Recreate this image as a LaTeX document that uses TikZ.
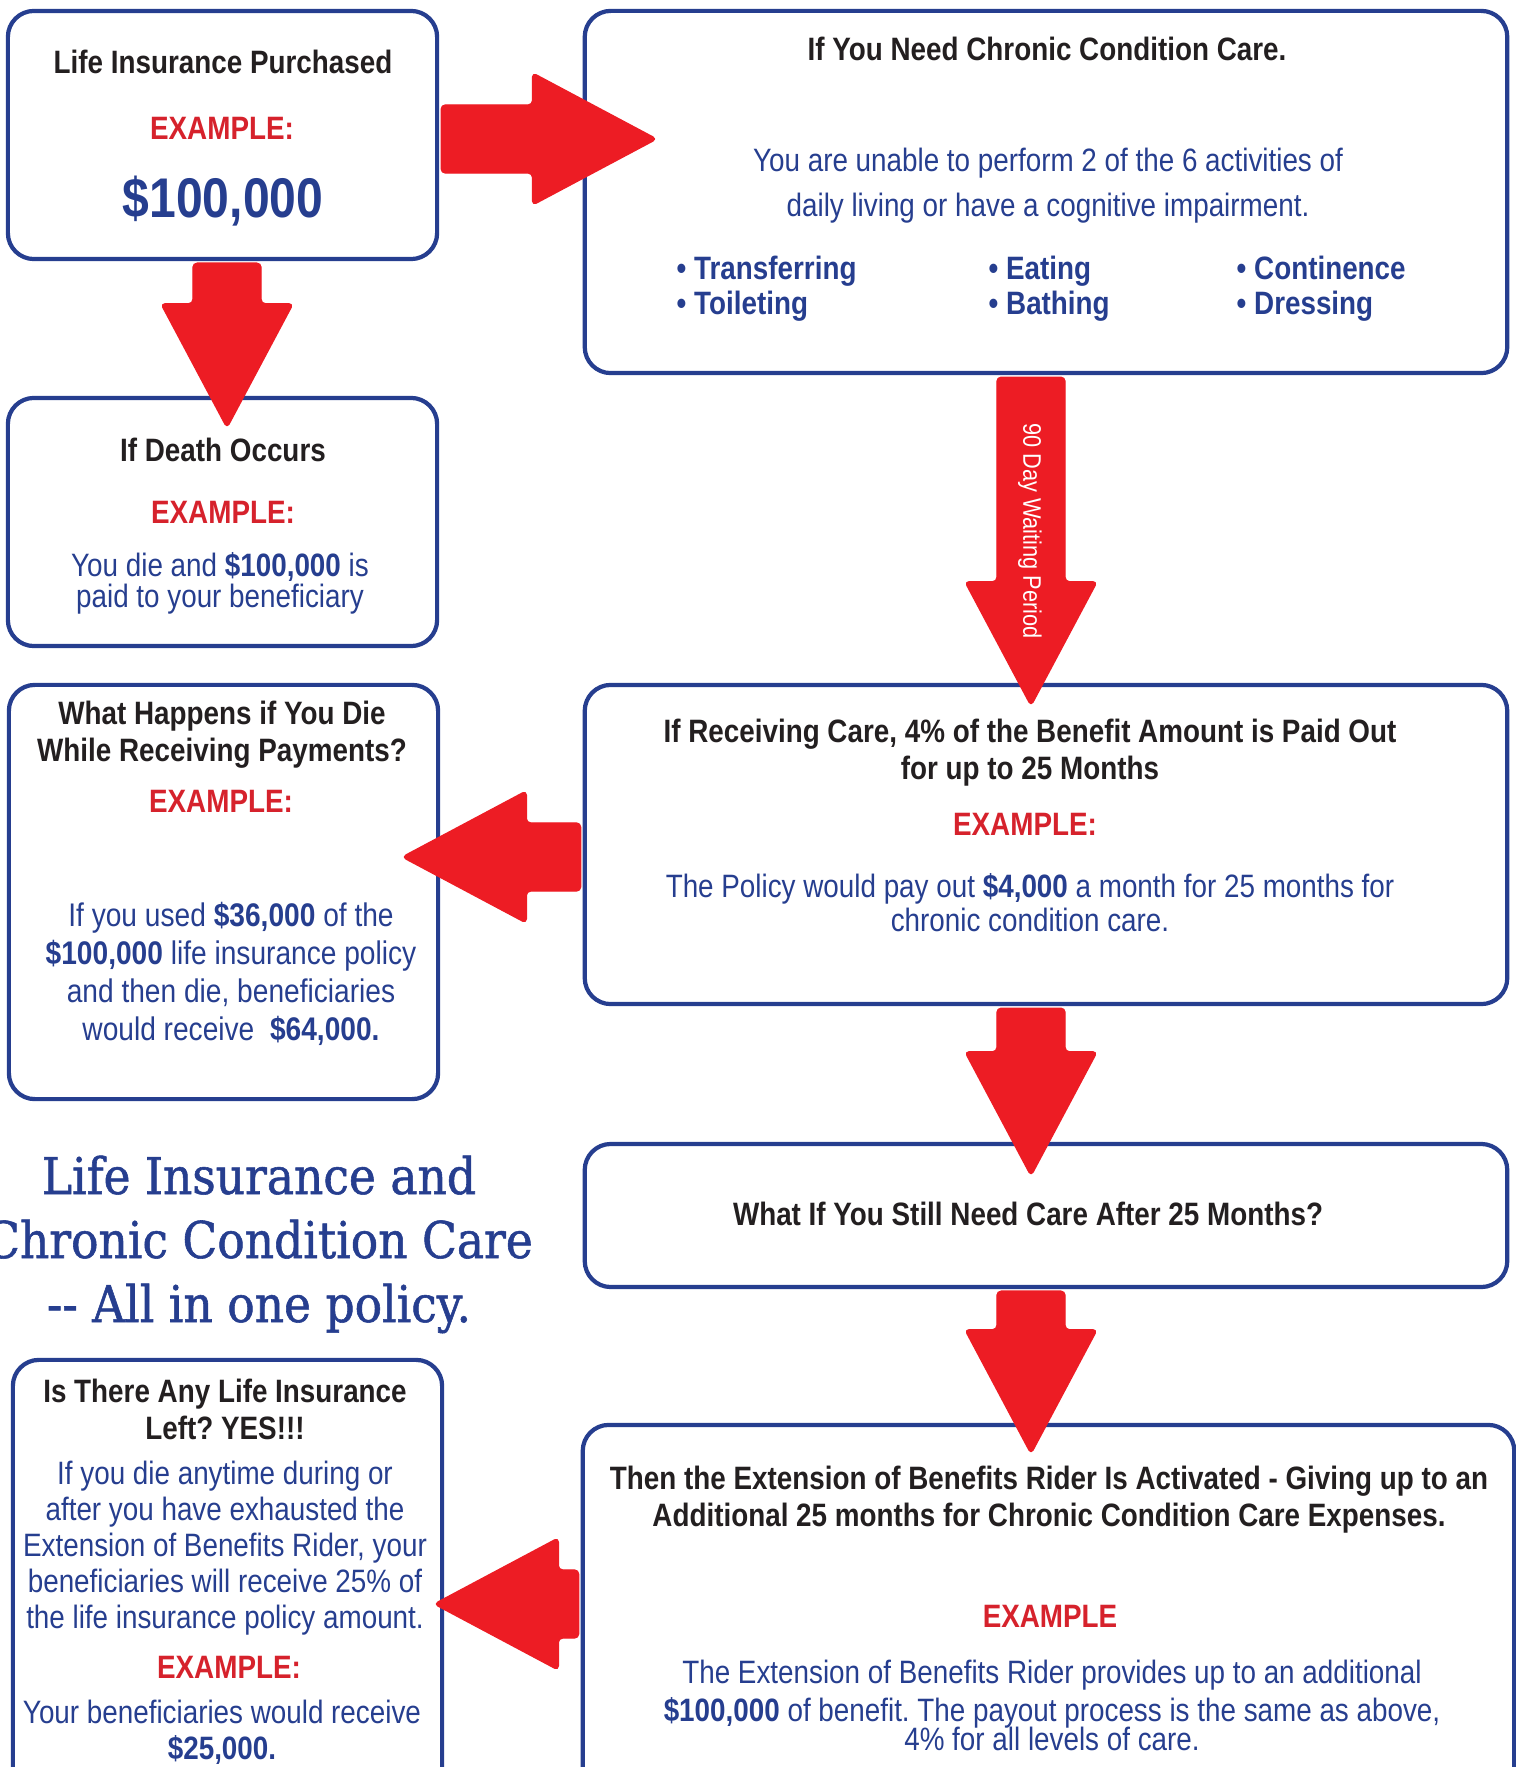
\documentclass[tikz,border=0pt]{standalone}
\usepackage{fontspec}
\setmainfont{Liberation Sans}[FakeStretch=0.86]
\newfontfamily\slabfont{DejaVu Serif}[FakeStretch=0.9, FakeBold=1.1]
\frenchspacing
\usepackage{tikz}
\usetikzlibrary{calc}
\definecolor{Policy_Blue}{HTML}{263E8F}
\definecolor{Arrow_Red}{HTML}{ED1C24}
\definecolor{Example_Red}{HTML}{D6222C}
\definecolor{Head_Black}{HTML}{231F20}

% fat block arrow from a start coordinate to its tip
\newcommand{\fatarrow}[2]{%
  \coordinate (fa-base) at ($(#2)!1.24cm!(#1)$);
  \fill[bigarrow] ($(#1)!0.34cm!90:(#2)$) -- ($(fa-base)!0.34cm!90:(#2)$)
    -- ($(fa-base)!0.66cm!90:(#2)$) -- (#2) -- ($(fa-base)!0.66cm!-90:(#2)$)
    -- ($(fa-base)!0.34cm!-90:(#2)$) -- ($(#1)!0.34cm!-90:(#2)$) -- cycle;
}

\begin{document}
\begin{tikzpicture}[x=0.01cm, y=-0.01cm,
    infobox/.style={draw=Policy_Blue, line width=1.2pt, rounded corners=7.4pt, inner sep=0pt},
    bigarrow/.style={fill=Arrow_Red, draw=Arrow_Red, line width=0.4pt, line join=round, rounded corners=1.2pt},
    boxtitle/.style={font=\fontsize{9.2}{10.4}\selectfont\bfseries, text=Head_Black, align=center, anchor=base, inner sep=0pt},
    exlabel/.style={font=\fontsize{9.2}{10.4}\selectfont\bfseries, text=Example_Red, anchor=base, inner sep=0pt},
    bodytext/.style={font=\fontsize{9.2}{10.4}\selectfont, text=Policy_Blue, align=center, anchor=base, inner sep=0pt},
    bulletitem/.style={font=\fontsize{9.2}{10}\selectfont\bfseries, text=Policy_Blue, align=left, anchor=base west, inner sep=0pt},
    slogan/.style={font=\fontsize{14.4}{18.2}\selectfont\slabfont, text=Policy_Blue, align=center, anchor=base, inner sep=0pt}]
    \useasboundingbox (0,0) rectangle (1516,1767);
    \clip (0,0) rectangle (1516,1767);

    % Boxes
    \node[infobox, minimum width=4.29cm, minimum height=2.48cm] (boxA) at (222.5,135) {};
    \node[infobox, minimum width=9.22cm, minimum height=3.62cm] (boxC) at (1046,192) {};
    \node[infobox, minimum width=4.29cm, minimum height=2.48cm] (boxB) at (222.5,522) {};
    \node[infobox, minimum width=4.29cm, minimum height=4.14cm] (boxE) at (223.5,892) {};
    \node[infobox, minimum width=9.22cm, minimum height=3.19cm] (boxD) at (1046,844.5) {};
    \node[infobox, minimum width=9.22cm, minimum height=1.43cm] (boxF) at (1046,1215.5) {};
    \node[infobox, minimum width=9.31cm, minimum height=3.75cm] (boxG) at (1048.5,1612.5) {};
    \node[infobox, minimum width=4.29cm, minimum height=4.40cm] (boxH) at (227.5,1580) {};

    % Arrow lanes
    \coordinate (laneA) at (227,0);
    \coordinate (laneR) at (1031,0);
    \coordinate (rowAC) at (0,139);
    \coordinate (rowDE) at (0,857);
    \coordinate (rowGH) at (0,1604);

    % Purchased -> chronic care
    \coordinate (srcAC) at ($(boxA.east |- rowAC)+(2,0)$);
    \coordinate (tipAC) at ($(boxC.west |- rowAC)+(74,0)$);
    \fatarrow{srcAC}{tipAC}

    % Purchased -> death
    \coordinate (srcAB) at ($(laneA |- boxA.south)+(0,2)$);
    \coordinate (tipAB) at ($(laneA |- boxB.north)+(0,32)$);
    \fatarrow{srcAB}{tipAB}

    % Chronic care -> receiving care (waiting period)
    \coordinate (srcCD) at ($(laneR |- boxC.south)+(0,2)$);
    \coordinate (tipCD) at ($(laneR |- boxD.north)+(0,23)$);
    \fatarrow{srcCD}{tipCD}

    % Receiving care -> die while receiving
    \coordinate (srcDE) at ($(boxD.west |- rowDE)+(-2,0)$);
    \coordinate (tipDE) at ($(boxE.east |- rowDE)+(-38,0)$);
    \fatarrow{srcDE}{tipDE}

    % Receiving care -> after 25 months
    \coordinate (srcDF) at ($(laneR |- boxD.south)+(0,2)$);
    \coordinate (tipDF) at ($(laneR |- boxF.north)+(0,34)$);
    \fatarrow{srcDF}{tipDF}

    % After 25 months -> rider
    \coordinate (srcFG) at ($(laneR |- boxF.south)+(0,2)$);
    \coordinate (tipFG) at ($(laneR |- boxG.north)+(0,31)$);
    \fatarrow{srcFG}{tipFG}

    % Rider -> life insurance left
    \coordinate (srcGH) at ($(boxG.west |- rowGH)+(-2,0)$);
    \coordinate (tipGH) at ($(boxH.east |- rowGH)+(-10,0)$);
    \fatarrow{srcGH}{tipGH}

    % Waiting period label
    \node[rotate=-90, font=\fontsize{7.2}{8}\selectfont, text=white, inner sep=0pt] (waitlbl) at (1030,531) {90 Day Waiting Period};

    % Life insurance purchased
    \node[boxtitle] (ttlA) at (223,74) {Life Insurance Purchased};
    \node[exlabel] (exA) at (222,140) {EXAMPLE:};
    \node[bodytext, font=\fontsize{15.9}{18}\selectfont\bfseries] (amtA) at (223,218) {\$100,000};

    % Chronic condition care (multi-line texts sit on their last baseline)
    \node[boxtitle] (ttlC) at (1047,61) {If You Need Chronic Condition Care.};
    \node[bodytext, font=\fontsize{9.2}{12.8}\selectfont] (txtC) at (1048,217) {You are unable to perform 2 of the 6 activities of\\daily living or have a cognitive impairment.};
    \node[bulletitem] (adl1) at (676,315) {•\ Transferring\\•\ Toileting};
    \node[bulletitem] (adl2) at (988,315) {•\ Eating\\•\ Bathing};
    \node[bulletitem] (adl3) at (1236,315) {•\ Continence\\•\ Dressing};

    % Death
    \node[boxtitle] (ttlB) at (223,462) {If Death Occurs};
    \node[exlabel] (exB) at (223,523) {EXAMPLE:};
    \node[bodytext, font=\fontsize{9.2}{8.6}\selectfont] (txtB) at (220,607) {You die and {\bfseries\$100,000} is\\paid to your beneficiary};

    % Die while receiving payments
    \node[boxtitle] (ttlE) at (222,761) {What Happens if You Die\\While Receiving Payments?};
    \node[exlabel] (exE) at (221,812) {EXAMPLE:};
    \node[bodytext, font=\fontsize{9.3}{10.8}\selectfont] (txtE) at (231,1040) {If you used {\bfseries\$36,000} of the\\{\bfseries\$100,000} life insurance policy\\and then die, beneficiaries\\would receive\ \ {\bfseries\$64,000.}};

    % Receiving care
    \node[boxtitle] (ttlD) at (1030,779) {If Receiving Care, 4\% of the Benefit Amount is Paid Out\\for up to 25 Months};
    \node[exlabel] (exD) at (1025,835) {EXAMPLE:};
    \node[bodytext, font=\fontsize{9.2}{9.4}\selectfont] (txtD) at (1030,931) {The Policy would pay out {\bfseries\$4,000} a month for 25 months for\\chronic condition care.};

    % Still need care
    \node[boxtitle] (ttlF) at (1028,1225) {What If You Still Need Care After 25 Months?};

    % Slogan
    \node[slogan] (slogan) at (259,1322) {Life Insurance and\\Chronic Condition Care\\-{}- All in one policy.};

    % Extension of benefits rider
    \node[boxtitle] (ttlG) at (1049,1526) {Then the Extension of Benefits Rider Is Activated - Giving up to an\\Additional 25 months for Chronic Condition Care Expenses.};
    \node[exlabel] (exG) at (1050,1627) {EXAMPLE};
    \node[bodytext, font=\fontsize{9.2}{11}\selectfont] (txtG) at (1052,1750) {The Extension of Benefits Rider provides up to an additional\\{\bfseries\$100,000} of benefit. The payout process is the same as above,\\[-3pt]4\% for all levels of care.};

    % Life insurance left
    \node[boxtitle] (ttlH) at (225,1439) {Is There Any Life Insurance\\Left? YES!!!};
    \node[bodytext, font=\fontsize{9.2}{10.2}\selectfont] (txtH) at (225,1628) {If you die anytime during or\\after you have exhausted the\\Extension of Benefits Rider, your\\beneficiaries will receive 25\% of\\the life insurance policy amount.};
    \node[exlabel] (exH) at (229,1678) {EXAMPLE:};
    \node[bodytext, font=\fontsize{9.2}{10}\selectfont] (txtH2) at (222,1759) {Your beneficiaries would receive\\{\bfseries\$25,000.}};

\end{tikzpicture}
\end{document}
